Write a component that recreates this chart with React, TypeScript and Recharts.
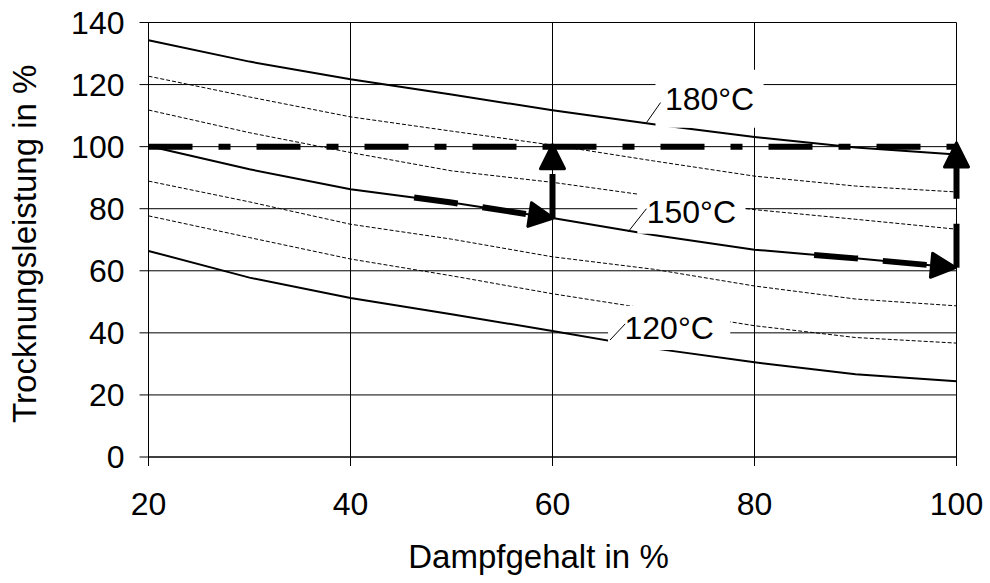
import { LineChart, Line, XAxis, YAxis, CartesianGrid, ReferenceArea, ReferenceLine } from "recharts";

const FONT = '"Liberation Sans", Arial, sans-serif';

// Dampfgehalt in % (x) and Trocknungsleistung in % (y) per temperature curve
const steam = [20, 30, 40, 50, 60, 70, 80, 90, 100];
const t180 = [134.3, 127.4, 121.7, 116.8, 111.7, 107.2, 103.1, 99.7, 97.5];
const t170 = [122.7, 116, 109.6, 105, 100.5, 95.4, 90.5, 87.3, 85.4];
const t160 = [111.8, 104.5, 98.1, 92.2, 88.5, 84, 79.7, 76.6, 73.4];
const t150 = [100.2, 92.7, 86.3, 82, 77, 71.5, 66.8, 64, 61];
const t140 = [88.9, 82.2, 75, 70.2, 64.5, 60.5, 55.1, 50.9, 48.7];
const t130 = [77.7, 70.7, 63.8, 58.4, 52.6, 47.5, 42.3, 38.5, 36.7];
const t120 = [66.4, 57.8, 51.2, 46, 40.6, 35, 30.5, 26.7, 24.4];

const xTicks = [20, 40, 60, 80, 100];
const yTicks = [0, 20, 40, 60, 80, 100, 120, 140];

// thick annotation paths
const refLeft = [{ x: 20, y: 100 }, { x: 60, y: 100 }];
const refRight = [{ x: 60, y: 100 }, { x: 100, y: 100 }];
const arrowAlong60 = [{ x: 46.3, y: 83.6 }, { x: 50, y: 82 }, { x: 59.6, y: 77.2 }];
const arrowUp60 = [{ x: 60, y: 77 }, { x: 60, y: 99 }];
const arrowAlong100 = [{ x: 85.9, y: 65.1 }, { x: 90, y: 64 }, { x: 99.4, y: 61.2 }];
const arrowUp100 = [{ x: 100, y: 61 }, { x: 100, y: 99.6 }];

const rows = steam.map((x, i) => ({
  x,
  t180: t180[i],
  t170: t170[i],
  t160: t160[i],
  t150: t150[i],
  t140: t140[i],
  t130: t130[i],
  t120: t120[i],
}));

const YTitle = (props: any) => {
  const vb = props.viewBox;
  const cy = vb.y + vb.height / 2 + 4;
  return (
    <text x={36} y={cy} transform={`rotate(-90, 36, ${cy})`} textAnchor="middle" fontSize={33} fontFamily={FONT} fill="#000">
      Trocknungsleistung in %
    </text>
  );
};

const XTitle = (props: any) => {
  const vb = props.viewBox;
  return (
    <text x={vb.x + vb.width / 2 - 14} y={568} textAnchor="middle" fontSize={33} fontFamily={FONT} fill="#000">
      Dampfgehalt in %
    </text>
  );
};

const boxLabel = (value: string) => ({ value, position: "center" as const, fontSize: 32, fill: "#000", fontFamily: FONT });

export default function App() {
  const thick = { stroke: "#000", strokeWidth: 6, dot: false, activeDot: false, isAnimationActive: false, type: "linear" as const };
  return (
    <div style={{ position: "absolute", left: 0, top: 0, background: "#fff" }}>
      <LineChart width={990} height={583} data={rows} margin={{ top: 22.5, right: 33.5, left: 0.5, bottom: 0 }}>
        <defs>
          <marker id="arrowHead" markerUnits="userSpaceOnUse" markerWidth={30} markerHeight={30} viewBox="-2 -2 30 30" refX={20} refY={13} orient="auto">
            <path d="M1,1 L25,13 L1,25 Z" fill="#000" stroke="#000" strokeWidth={3} strokeLinejoin="round" />
          </marker>
        </defs>
        <CartesianGrid stroke="#000" strokeWidth={1} />
        <XAxis
          dataKey="x"
          type="number"
          domain={[20, 100]}
          ticks={xTicks}
          height={126}
          tickSize={9}
          tickMargin={26}
          stroke="#000"
          tick={{ fontSize: 32, fill: "#000", fontFamily: FONT }}
          label={<XTitle />}
        />
        <YAxis
          type="number"
          domain={[0, 140]}
          ticks={yTicks}
          width={148}
          tickSize={9}
          tickMargin={15}
          stroke="#000"
          tick={{ fontSize: 32, fill: "#000", fontFamily: FONT }}
          label={<YTitle />}
        />

        <Line dataKey="t170" stroke="#000" strokeWidth={1} strokeDasharray="4 2" dot={false} activeDot={false} isAnimationActive={false} type="linear" />
        <Line dataKey="t160" stroke="#000" strokeWidth={1} strokeDasharray="4 2" dot={false} activeDot={false} isAnimationActive={false} type="linear" />
        <Line dataKey="t140" stroke="#000" strokeWidth={1} strokeDasharray="4 2" dot={false} activeDot={false} isAnimationActive={false} type="linear" />
        <Line dataKey="t130" stroke="#000" strokeWidth={1} strokeDasharray="4 2" dot={false} activeDot={false} isAnimationActive={false} type="linear" />
        <Line dataKey="t180" stroke="#000" strokeWidth={2} dot={false} activeDot={false} isAnimationActive={false} type="linear" />
        <Line dataKey="t150" stroke="#000" strokeWidth={2} dot={false} activeDot={false} isAnimationActive={false} type="linear" />
        <Line dataKey="t120" stroke="#000" strokeWidth={2} dot={false} activeDot={false} isAnimationActive={false} type="linear" />

        <Line data={refLeft} dataKey="y" {...thick} strokeDasharray="44 26 12 26" />
        <Line data={refRight} dataKey="y" {...thick} strokeDasharray="44 26 12 26" />
        <Line data={arrowAlong60} dataKey="y" {...thick} strokeDasharray="44 25" markerEnd="url(#arrowHead)" />
        <Line data={arrowUp60} dataKey="y" {...thick} strokeDasharray="44 25" markerEnd="url(#arrowHead)" />
        <Line data={arrowAlong100} dataKey="y" {...thick} strokeDasharray="44 25" markerEnd="url(#arrowHead)" />
        <Line data={arrowUp100} dataKey="y" {...thick} strokeDasharray="44 25" markerEnd="url(#arrowHead)" />

        <ReferenceArea x1={70.2} x2={80.9} y1={106.1} y2={124.8} fill="#fff" fillOpacity={1} stroke="none" isFront zIndex={900} label={boxLabel("180°C")} />
        <ReferenceArea x1={68.4} x2={79.1} y1={71.9} y2={86.1} fill="#fff" fillOpacity={1} stroke="none" isFront zIndex={900} label={boxLabel("150°C")} />
        <ReferenceArea x1={65.5} x2={77.6} y1={34.5} y2={48.7} fill="#fff" fillOpacity={1} stroke="none" isFront zIndex={900} label={boxLabel("120°C")} />

        <ReferenceLine segment={[{ x: 69.3, y: 107.7 }, { x: 70.7, y: 114.2 }]} stroke="#000" strokeWidth={1} isFront zIndex={1000} />
        <ReferenceLine segment={[{ x: 67.5, y: 72.6 }, { x: 69.3, y: 80 }]} stroke="#000" strokeWidth={1} isFront zIndex={1000} />
        <ReferenceLine segment={[{ x: 65.7, y: 37.7 }, { x: 67.2, y: 42.9 }]} stroke="#000" strokeWidth={1} isFront zIndex={1000} />
      </LineChart>
    </div>
  );
}
